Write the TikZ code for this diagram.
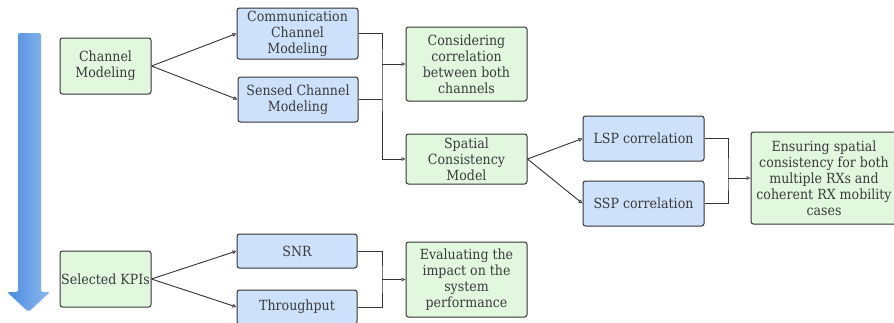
\documentclass[tikz,border=0pt]{standalone}
\usepackage{fontspec}
\setmainfont{DejaVu Serif Condensed}
\usetikzlibrary{arrows.meta, positioning}
\definecolor{cdark}{HTML}{333333}
\definecolor{ctext}{HTML}{3A3A3A}
\definecolor{cgreen}{HTML}{E1F8DF}
\definecolor{cblue}{HTML}{CDE1FB}
\definecolor{arrowL}{HTML}{4A8BE0}
\definecolor{arrowR}{HTML}{8DB9EE}
\tikzset{
  every picture/.style={x=1pt, y=-1pt, line width=0.9pt},
  box/.style={draw=cdark, line width=1pt, rounded corners=2.5pt, align=center, text=ctext,
              inner sep=1pt, font=\fontsize{14}{16}\selectfont},
  gbox/.style={box, fill=cgreen},
  bbox/.style={box, fill=cblue},
  link/.style={draw=cdark},
  arrow/.style={link, -{Triangle[open, length=4pt, width=3.6pt, line width=0.7pt]}},
}

\begin{document}
\begin{tikzpicture}
  \useasboundingbox (0,0) rectangle (894,322);
  % progress arrow
  \shade[left color=arrowL, right color=arrowR, rounded corners=2pt]
    (18,292) -- (18,33) -- (41,33) -- (41,292) -- (50,292) -- (28.5,312) -- (7,292) -- cycle;
  % channel modeling branch
  \node[gbox, minimum width=91, minimum height=56] (chan) at (105.5,66) {Channel\\Modeling};
  \node[bbox, minimum width=121, minimum height=51] (comm) at (297.5,33.5) {Communication\\Channel\\Modeling};
  \node[bbox, minimum width=120, minimum height=45] (sens) at (298,99.5) {Sensed Channel\\Modeling};
  \node[gbox, minimum width=121, minimum height=74] (cons) at (466.5,64) {Considering\\correlation\\between both\\channels};
  \node[gbox, minimum width=121, minimum height=50] (spat) at (466.5,159) {Spatial\\Consistency\\Model};
  \node[bbox, minimum width=121, minimum height=45] (lsp) at (643.5,138.5) {LSP correlation};
  \node[bbox, minimum width=121, minimum height=45] (ssp) at (643.5,203.5) {SSP correlation};
  \node[gbox, minimum width=146, minimum height=92] (ens) at (824,178) {Ensuring spatial\\consistency for both\\multiple RXs and\\coherent RX mobility\\cases};
  \coordinate (j1) at (382,64);
  \coordinate (j2) at (728,178);
  \draw[arrow] (chan.east) -- (comm.west);
  \draw[arrow] (chan.east) -- (sens.west);
  \draw[arrow] (comm.east) -| (j1) |- (spat.west);
  \draw[link] (sens.east) -- (sens.east -| j1);
  \draw[arrow] (j1) -- (cons.west);
  \draw[arrow] (spat.east) -- (lsp.west);
  \draw[arrow] (spat.east) -- (ssp.west);
  \draw[link] (lsp.east) -| (j2) |- (ssp.east);
  \draw[arrow] (j2) -- (ens.west);
  % KPI branch
  \node[gbox, minimum width=91, minimum height=56] (kpi) at (105.5,279) {Selected KPIs};
  \node[bbox, minimum width=120, minimum height=34] (snr) at (297,251) {SNR};
  \node[bbox, minimum width=120, minimum height=34] (thr) at (297,307) {Throughput};
  \node[gbox, minimum width=121, minimum height=75] (eval) at (466.5,279.5) {Evaluating the\\impact on the\\system\\performance};
  \coordinate (j3) at (382,279.5);
  \draw[arrow] (kpi.east) -- (snr.west);
  \draw[arrow] (kpi.east) -- (thr.west);
  \draw[link] (snr.east) -| (j3) |- (thr.east);
  \draw[arrow] (j3) -- (eval.west);
\end{tikzpicture}
\end{document}
